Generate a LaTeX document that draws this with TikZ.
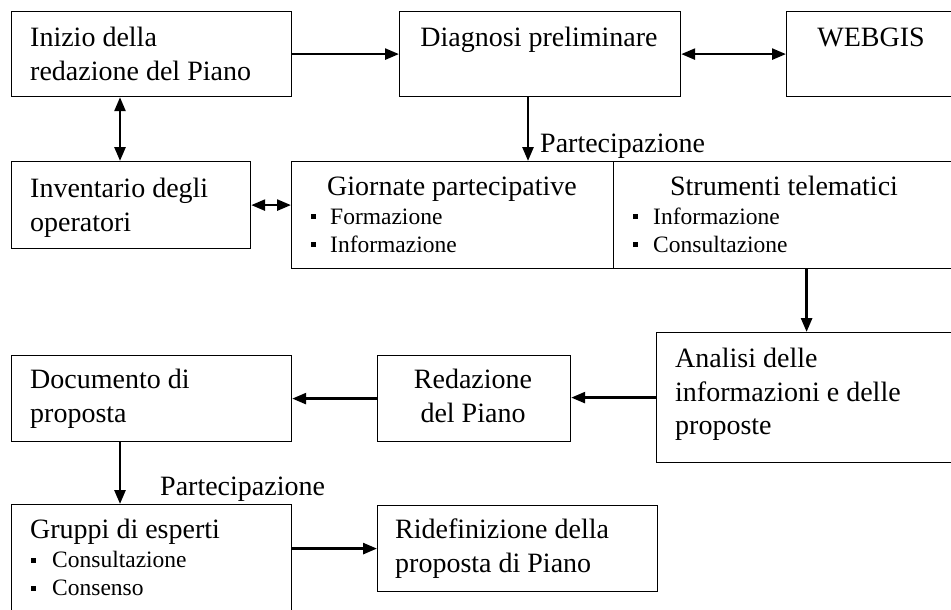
\documentclass[tikz,border=0pt]{standalone}
\usepackage{fontspec}
\setmainfont{Liberation Serif}
\usetikzlibrary{arrows.meta,calc}
\begin{document}
\begin{tikzpicture}[x=1pt,y=-1pt,
  box/.style={draw, line width=1.2pt, inner sep=0pt, anchor=north west},
  big/.style={font=\fontsize{28}{34}\selectfont, inner sep=0pt},
  small/.style={font=\fontsize{23.5}{28}\selectfont, inner sep=0pt},
  conn/.style={line width=2.6pt, -{Triangle[length=14pt,width=11pt]}},
  twoway/.style={line width=2.6pt, {Triangle[length=14pt,width=11pt]}-{Triangle[length=14pt,width=11pt]}},
  bul/.style={fill, minimum size=5pt, inner sep=0pt}]
\useasboundingbox (0,0) rectangle (951,610);
% boxes
\node[box, minimum width=280pt, minimum height=85pt] (inizio) at (11,11) {};
\node[box, minimum width=281pt, minimum height=85pt] (diagnosi) at (399,11) {};
\node[box, minimum width=170pt, minimum height=85pt] (webgis) at (786,11) {};
\node[box, minimum width=239pt, minimum height=87pt] (inventario) at (11,161) {};
\node[box, minimum width=322pt, minimum height=107pt] (giornate) at (291,161) {};
\node[box, minimum width=343pt, minimum height=107pt] (strumenti) at (613,161) {};
\node[box, minimum width=300pt, minimum height=130pt] (analisi) at (656,332) {};
\node[box, minimum width=193pt, minimum height=86pt] (redazione) at (377,355) {};
\node[box, minimum width=280pt, minimum height=86pt] (documento) at (11,355) {};
\node[box, minimum width=280pt, minimum height=125pt] (gruppi) at (11,504) {};
\node[box, minimum width=280pt, minimum height=86pt] (ridef) at (377,505) {};
% texts
\node[big, anchor=base west] (t1a) at (30,47) {Inizio della};
\node[big, anchor=base west] (t1b) at (30,81) {redazione del Piano};
\node[big, anchor=base] (t2) at (539,47) {Diagnosi preliminare};
\node[big, anchor=base] (t3) at (871,47) {WEBGIS};
\node[big, anchor=base west] (t4a) at (30,197) {Inventario degli};
\node[big, anchor=base west] (t4b) at (30,231) {operatori};
\node[big, anchor=base] (t5) at (452,195) {Giornate partecipative};
\node[bul] (b5a) at (313,216) {};
\node[small, anchor=base west] (t5a) at (330,224) {Formazione};
\node[bul] (b5b) at (313,244) {};
\node[small, anchor=base west] (t5b) at (330,252) {Informazione};
\node[big, anchor=base] (t6) at (784,195) {Strumenti telematici};
\node[bul] (b6a) at (635,216) {};
\node[small, anchor=base west] (t6a) at (653,224) {Informazione};
\node[bul] (b6b) at (635,244) {};
\node[small, anchor=base west] (t6b) at (653,252) {Consultazione};
\node[big, anchor=base west] (t7a) at (675,367) {Analisi delle};
\node[big, anchor=base west] (t7b) at (675,401) {informazioni e delle};
\node[big, anchor=base west] (t7c) at (675,434) {proposte};
\node[big, anchor=base] (t8a) at (473,388) {Redazione};
\node[big, anchor=base] (t8b) at (473,422) {del Piano};
\node[big, anchor=base west] (t9a) at (30,388) {Documento di};
\node[big, anchor=base west] (t9b) at (30,422) {proposta};
\node[big, anchor=base west] (t10) at (30,538) {Gruppi di esperti};
\node[bul] (b10a) at (33,560) {};
\node[small, anchor=base west] (t10a) at (52,567) {Consultazione};
\node[bul] (b10b) at (33,588) {};
\node[small, anchor=base west] (t10b) at (52,595) {Consenso};
\node[big, anchor=base west] (t11a) at (395,538) {Ridefinizione della};
\node[big, anchor=base west] (t11b) at (395,572) {proposta di Piano};
% connectors
\coordinate (c1) at ($(inizio.south west)+(109,0)$);
\coordinate (c2) at ($(diagnosi.south west)+(129,0)$);
\coordinate (c3) at ($(documento.south west)+(109,0)$);
\draw[conn] (inizio.east) -- (diagnosi.west);
\draw[twoway] (diagnosi.east) -- (webgis.west);
\draw[twoway] (c1) -- (c1 |- inventario.north);
\draw[twoway] (inventario.east) -- (inventario.east -| giornate.west);
\draw[conn] (c2) -- (c2 |- giornate.north);
\node[big, anchor=base west] (p1) at (540,152) {Partecipazione};
\draw[conn] (analisi.north |- strumenti.south) -- (analisi.north);
\draw[conn] (analisi.west) -- (analisi.west -| redazione.east);
\draw[conn] (redazione.west) -- (redazione.west -| documento.east);
\draw[conn] (c3) -- (c3 |- gruppi.north);
\node[big, anchor=base west] (p2) at (160,495) {Partecipazione};
\draw[conn] (ridef.west -| gruppi.east) -- (ridef.west);
\end{tikzpicture}
\end{document}
